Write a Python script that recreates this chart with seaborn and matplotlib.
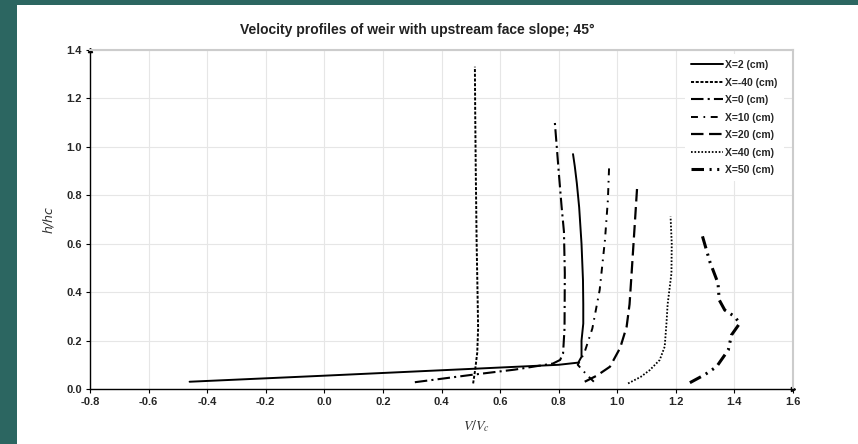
import numpy as np
import pandas as pd
import matplotlib
matplotlib.use('Agg')
import matplotlib.pyplot as plt
from matplotlib.patches import Rectangle
import seaborn as sns

# velocity profiles (V/Vc, h/hc)
x2_v = [-0.46, 0.0, 0.5, 0.80, 0.867, 0.878, 0.878, 0.884, 0.884, 0.883, 0.878, 0.87, 0.862, 0.855, 0.849]
x2_h = [0.03, 0.055, 0.083, 0.100, 0.109, 0.133, 0.20, 0.27, 0.35, 0.45, 0.6, 0.75, 0.85, 0.92, 0.97]

xm40_v = [0.508, 0.515, 0.522, 0.525, 0.523, 0.52, 0.517, 0.515, 0.514]
xm40_h = [0.023, 0.08, 0.15, 0.25, 0.4, 0.6, 0.9, 1.15, 1.331]

x0_v = [0.309, 0.5, 0.65, 0.78, 0.805, 0.815, 0.82, 0.821, 0.818, 0.81, 0.80, 0.787]
x0_h = [0.028, 0.058, 0.08, 0.105, 0.12, 0.147, 0.25, 0.478, 0.65, 0.753, 0.9, 1.10]

x10_v = [0.92, 0.895, 0.865, 0.875, 0.889, 0.915, 0.94, 0.958, 0.968, 0.972]
x10_h = [0.03, 0.06, 0.10, 0.12, 0.154, 0.25, 0.409, 0.615, 0.78, 0.911]

x20_v = [0.889, 0.93, 0.975, 1.01, 1.032, 1.042, 1.049, 1.06, 1.068]
x20_h = [0.03, 0.055, 0.092, 0.17, 0.257, 0.35, 0.478, 0.684, 0.836]

x40_v = [1.037, 1.08, 1.111, 1.145, 1.162, 1.168, 1.172, 1.185, 1.186, 1.182]
x40_h = [0.023, 0.05, 0.078, 0.12, 0.175, 0.271, 0.35, 0.478, 0.6, 0.712]

x50_v = [1.248, 1.30, 1.339, 1.379, 1.39, 1.418, 1.401, 1.367, 1.348, 1.344, 1.316, 1.288]
x50_h = [0.026, 0.06, 0.092, 0.161, 0.223, 0.271, 0.299, 0.326, 0.368, 0.437, 0.526, 0.643]

labels = ['X=2 (cm)', 'X=-40 (cm)', 'X=0 (cm)', 'X=10 (cm)', 'X=20 (cm)', 'X=40 (cm)', 'X=50 (cm)']
series = [(x2_v, x2_h), (xm40_v, xm40_h), (x0_v, x0_h), (x10_v, x10_h),
          (x20_v, x20_h), (x40_v, x40_h), (x50_v, x50_h)]

# dash patterns are in points, not scaled by line width
styles = [
    ('-', 1.4),
    ((0, (2.2, 1.2)), 1.4),
    ((0, (9, 3, 1.5, 3)), 1.5),
    ((0, (5, 4, 1.2, 4)), 1.4),
    ((0, (9, 4)), 1.6),
    ((0, (1.2, 1.3)), 1.3),
    ((0, (9, 4, 1.5, 4, 1.5, 4)), 2.2),
]

x_ticks = np.round(np.arange(-0.8, 1.61, 0.2), 1)
y_ticks = np.round(np.arange(0.0, 1.41, 0.2), 1)

sns.set_theme(style='white')
plt.rcParams['font.family'] = ['Liberation Sans', 'DejaVu Sans']
plt.rcParams['mathtext.fontset'] = 'stix'
plt.rcParams['lines.scale_dashes'] = False

fig = plt.figure(figsize=(8.58, 4.44), dpi=100)
fig.patch.set_facecolor('#2c6661')
fig.add_artist(Rectangle((17 / 858, 0), 1, 1 - 5 / 444, transform=fig.transFigure,
                         facecolor='white', edgecolor='none', zorder=0))

ax = fig.add_axes([90 / 858, 1 - 389 / 444, 703 / 858, 339 / 444])
ax.set_facecolor('white')

for (v, h), lab, (ls, lw) in zip(series, labels, styles):
    df = pd.DataFrame({'V': v, 'h': h})
    sns.lineplot(data=df, x='V', y='h', sort=False, estimator=None, ax=ax,
                 color='black', linestyle=ls, linewidth=lw, label=lab)

ax.set_xlim(-0.8, 1.6)
ax.set_ylim(0, 1.4)
ax.set_xticks(x_ticks)
ax.set_yticks(y_ticks)
ax.set_xticklabels([f'{t + 0.0:.1f}'.replace('-0.0', '0.0') for t in x_ticks], fontsize=8, fontweight='bold')
ax.set_yticklabels([f'{t:.1f}' for t in y_ticks], fontsize=8, fontweight='bold')
ax.tick_params(axis='both', length=3, width=0.8, color='black', direction='out',
               bottom=True, left=True, pad=3)
ax.grid(True, color='#e6e6e6', linewidth=0.8)

for side in ['left', 'bottom']:
    ax.spines[side].set_color('black')
    ax.spines[side].set_linewidth(1.0)
for side in ['top', 'right']:
    ax.spines[side].set_color('#cccccc')
    ax.spines[side].set_linewidth(1.5)

# arrow heads at the axis ends
ax.plot(0, 1, marker='^', color='black', markersize=3, transform=ax.transAxes, clip_on=False)
ax.plot(1, 0, marker='>', color='black', markersize=3, transform=ax.transAxes, clip_on=False)

ax.set_xlabel(r'$V/V_c$', fontsize=10, color='#333333')
ax.xaxis.set_label_coords(0.55, -0.085)
ax.set_ylabel('h/hc', fontsize=9, fontstyle='italic', fontfamily='DejaVu Sans', color='#333333')
ax.yaxis.set_label_coords(-0.05, 0.5)

fig.text(0.486, 1 - 30 / 444, 'Velocity profiles of weir with upstream face slope; 45°',
         ha='center', va='center', fontsize=10, fontweight='bold', color='#222222')

leg = ax.legend(loc='upper right', bbox_to_anchor=(0.99, 0.995), frameon=True, fancybox=False,
                facecolor='white', edgecolor='none', framealpha=1,
                prop={'size': 7.5, 'weight': 'bold'}, handlelength=3.0, handletextpad=0.25,
                labelspacing=0.72, borderpad=0.6, borderaxespad=0.2)

fig.savefig('out.png', dpi=100, facecolor=fig.get_facecolor())
